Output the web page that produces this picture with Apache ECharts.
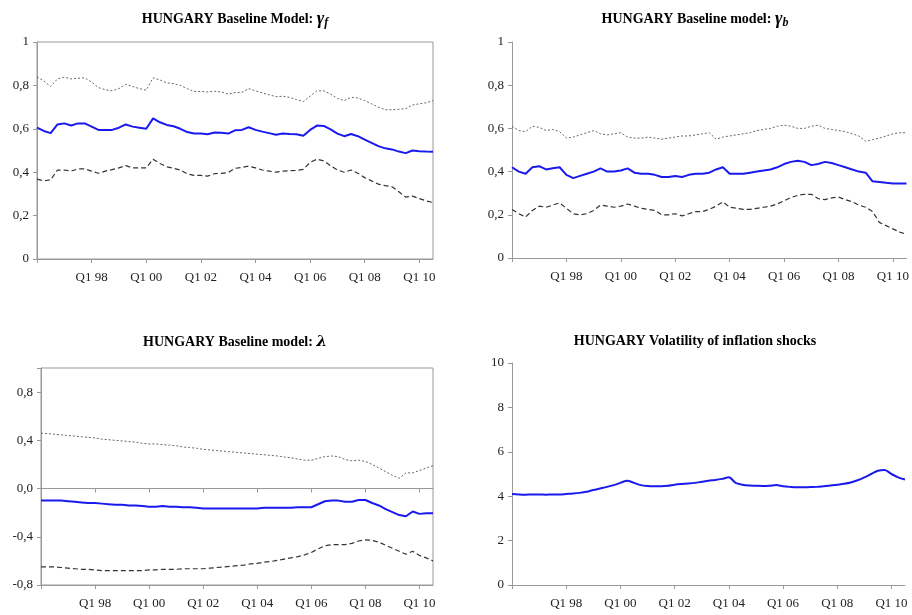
<!DOCTYPE html>
<html><head><meta charset="utf-8">
<script src="https://cdn.jsdelivr.net/npm/echarts@6/dist/echarts.min.js"></script>
<style>html,body{margin:0;padding:0;background:#fff}#c{width:912px;height:615px}</style>
</head><body><div id="c"></div>
<script>
const years = ['96','97','98','99','00','01','02','03','04','05','06','07','08','09','10'];
const categories = [];
years.forEach(y => { for (let q = 1; q <= 4; q++) categories.push('Q' + q + ' ' + y); });
categories.length = 59; // Q1 96 .. Q3 10

const gfMid = [.605,.59,.58,.62,.625,.615,.625,.625,.61,.595,.595,.595,.605,.62,.61,.605,.6,.648,.63,.618,.612,.6,.585,.578,.578,.575,.583,.582,.578,.593,.595,.607,.595,.587,.58,.573,.578,.576,.575,.568,.595,.615,.613,.597,.578,.566,.576,.566,.55,.535,.52,.51,.505,.495,.488,.5,.497,.495,.494];
const gfUp = [.84,.82,.795,.83,.838,.83,.833,.835,.815,.79,.78,.775,.785,.805,.795,.785,.778,.835,.825,.812,.808,.8,.785,.772,.772,.77,.773,.77,.76,.767,.768,.785,.775,.765,.757,.748,.75,.745,.735,.725,.75,.775,.775,.76,.74,.73,.745,.742,.73,.715,.7,.688,.688,.69,.693,.71,.715,.72,.73];
const gfLo = [.368,.36,.365,.41,.41,.405,.415,.415,.405,.395,.405,.412,.42,.43,.42,.42,.42,.46,.44,.425,.418,.41,.392,.385,.385,.382,.393,.395,.398,.418,.422,.428,.42,.41,.405,.4,.405,.407,.408,.413,.445,.46,.452,.43,.41,.4,.41,.395,.375,.36,.345,.338,.333,.31,.285,.29,.278,.268,.26];

const gbMid = [.42,.4,.39,.42,.425,.41,.415,.42,.385,.37,.38,.39,.4,.415,.4,.4,.405,.415,.395,.39,.39,.385,.375,.375,.38,.375,.385,.39,.39,.395,.41,.42,.39,.39,.39,.395,.4,.405,.41,.42,.435,.445,.45,.445,.43,.435,.445,.44,.43,.42,.41,.4,.395,.355,.352,.348,.345,.345,.345];
const gbUp = [.61,.59,.585,.61,.605,.59,.595,.585,.555,.56,.57,.58,.59,.575,.57,.575,.58,.56,.555,.555,.56,.555,.55,.555,.56,.565,.565,.57,.575,.58,.55,.56,.565,.57,.575,.58,.59,.595,.6,.61,.615,.61,.6,.6,.61,.615,.6,.595,.59,.585,.575,.565,.54,.548,.555,.565,.575,.58,.58];
const gbLo = [.225,.205,.19,.22,.24,.235,.245,.255,.23,.205,.2,.205,.22,.245,.24,.235,.24,.25,.24,.23,.225,.22,.2,.2,.205,.195,.205,.215,.215,.225,.24,.26,.235,.23,.225,.225,.23,.235,.24,.25,.265,.28,.29,.295,.295,.275,.27,.278,.282,.27,.26,.245,.235,.215,.165,.15,.135,.12,.11];

const lamMid = [-.10,-.10,-.10,-.10,-.105,-.11,-.115,-.12,-.12,-.125,-.13,-.135,-.135,-.14,-.14,-.145,-.15,-.15,-.145,-.15,-.15,-.155,-.155,-.16,-.165,-.165,-.165,-.165,-.165,-.165,-.165,-.165,-.165,-.16,-.16,-.16,-.16,-.16,-.155,-.155,-.155,-.13,-.105,-.1,-.1,-.11,-.11,-.095,-.095,-.12,-.14,-.17,-.195,-.22,-.23,-.19,-.21,-.205,-.205];
const lamUp = [.46,.455,.45,.445,.44,.435,.43,.425,.42,.41,.405,.4,.395,.39,.385,.375,.37,.37,.365,.36,.355,.345,.34,.335,.325,.32,.315,.31,.305,.3,.295,.29,.285,.28,.275,.27,.262,.255,.245,.235,.235,.25,.265,.27,.265,.24,.23,.235,.225,.2,.17,.14,.11,.085,.13,.13,.15,.17,.19];
const lamLo = [-.65,-.65,-.65,-.655,-.66,-.665,-.67,-.67,-.675,-.68,-.68,-.68,-.68,-.68,-.68,-.68,-.675,-.675,-.67,-.67,-.67,-.665,-.665,-.665,-.665,-.66,-.655,-.65,-.645,-.64,-.635,-.625,-.62,-.61,-.605,-.595,-.585,-.575,-.565,-.55,-.53,-.5,-.475,-.465,-.465,-.465,-.455,-.435,-.425,-.43,-.445,-.47,-.495,-.52,-.545,-.52,-.555,-.575,-.6];

const vol = [4.1,4.08,4.07,4.08,4.08,4.07,4.08,4.08,4.1,4.12,4.15,4.2,4.28,4.35,4.42,4.5,4.6,4.7,4.6,4.5,4.46,4.45,4.45,4.47,4.52,4.55,4.57,4.6,4.65,4.7,4.73,4.78,4.85,4.6,4.52,4.48,4.47,4.46,4.47,4.5,4.45,4.42,4.4,4.4,4.41,4.42,4.45,4.48,4.52,4.56,4.62,4.72,4.85,5.0,5.15,5.18,5.0,4.85,4.75];

const F = '"Liberation Serif", "Times New Roman", serif';
const grids = [
  {left:37, top:42, width:396, height:217, show:true, borderColor:'#999', borderWidth:1},
  {left:512, top:42, width:396, height:216},
  {left:41, top:368, width:392, height:217, show:true, borderColor:'#999', borderWidth:1},
  {left:512, top:363, width:393, height:222}
];
const fmt1 = v => { v = Math.abs(v) < 1e-9 ? 0 : v; return (v === 0 || v === 1) ? String(v) : v.toFixed(1).replace('.', ','); };
const fmtL = v => { v = Math.abs(v) < 1e-9 ? 0 : v; return v > 0.9 ? '' : v.toFixed(1).replace('.', ','); };
const lbl = {fontFamily:F, fontSize:13, color:'#222'};
function xa(g, extra) {
  return Object.assign({type:'category', gridIndex:g, data:categories, boundaryGap:false,
    axisLine:{onZero:false, lineStyle:{color:'#999'}},
    axisTick:{interval:i => i % 8 === 0, length:4, lineStyle:{color:'#999'}},
    axisLabel:Object.assign({interval:i => i % 8 === 0 && i > 0, margin:12}, lbl),
    splitLine:{show:false}}, extra || {});
}
function ya(g, min, max, iv, f) {
  return {type:'value', gridIndex:g, min, max, interval:iv,
    axisLine:{show:true, lineStyle:{color:'#999'}}, axisTick:{show:true, length:4, lineStyle:{color:'#999'}},
    axisLabel:Object.assign({formatter:f, margin:8}, lbl), splitLine:{show:false}};
}
const xAxis = [xa(0), xa(1), xa(2), xa(3),
  {type:'category', gridIndex:2, data:categories, boundaryGap:false, position:'top',
   axisLine:{onZero:true, lineStyle:{color:'#999'}},
   axisTick:{inside:true, interval:i => i % 8 === 0 && i > 0, length:4, lineStyle:{color:'#999'}},
   axisLabel:{show:false}}];
const yAxis = [ya(0,0,1,0.2,fmt1), ya(1,0,1,0.2,fmt1), ya(2,-0.8,1.0,0.4,fmtL), ya(3,0,10,2,v=>String(v))];
function trio(xi, yi, up, mid, lo) {
  return [
    {type:'line', xAxisIndex:xi, yAxisIndex:yi, data:up, symbol:'none', lineStyle:{color:'#666', width:1, type:[2,2]}},
    {type:'line', xAxisIndex:xi, yAxisIndex:yi, data:lo, symbol:'none', lineStyle:{color:'#333', width:1.2, type:[5,3]}},
    {type:'line', xAxisIndex:xi, yAxisIndex:yi, data:mid, symbol:'none', lineStyle:{color:'#1a1aee', width:2}}
  ];
}
const series = [].concat(trio(0,0,gfUp,gfMid,gfLo), trio(1,1,gbUp,gbMid,gbLo), trio(2,2,lamUp,lamMid,lamLo),
  [{type:'line', xAxisIndex:3, yAxisIndex:3, data:vol, symbol:'none', smooth:0.3, lineStyle:{color:'#1a1aee', width:2}}]);
const tstyle = {fontFamily:F, fontSize:14, fontWeight:'bold', color:'#000',
  rich:{g:{fontFamily:F, fontSize:18, fontStyle:'italic', fontWeight:'bold', color:'#000'},
        s:{fontFamily:F, fontSize:12, fontStyle:'italic', fontWeight:'bold', color:'#000', verticalAlign:'bottom', padding:[7,0,0,0]},
        l:{fontFamily:'DejaVu Serif', fontSize:15, fontStyle:'italic', fontWeight:'bold', color:'#000'}}};
const title = [
  {text:'HUNGARY Baseline Model: {g|γ}{s|f}', left:230, top:5, textAlign:'center', textStyle:tstyle},
  {text:'HUNGARY Baseline model: {g|γ}{s|b}', left:690, top:5, textAlign:'center', textStyle:tstyle},
  {text:'HUNGARY Baseline model: {l|λ}', left:230, top:330, textAlign:'center', textStyle:tstyle},
  {text:'HUNGARY Volatility of inflation shocks', left:690, top:329, textAlign:'center', textStyle:tstyle}
];
const chart = echarts.init(document.getElementById('c'));
chart.setOption({animation:false, title, grid:grids, xAxis, yAxis, series});
</script></body></html>
